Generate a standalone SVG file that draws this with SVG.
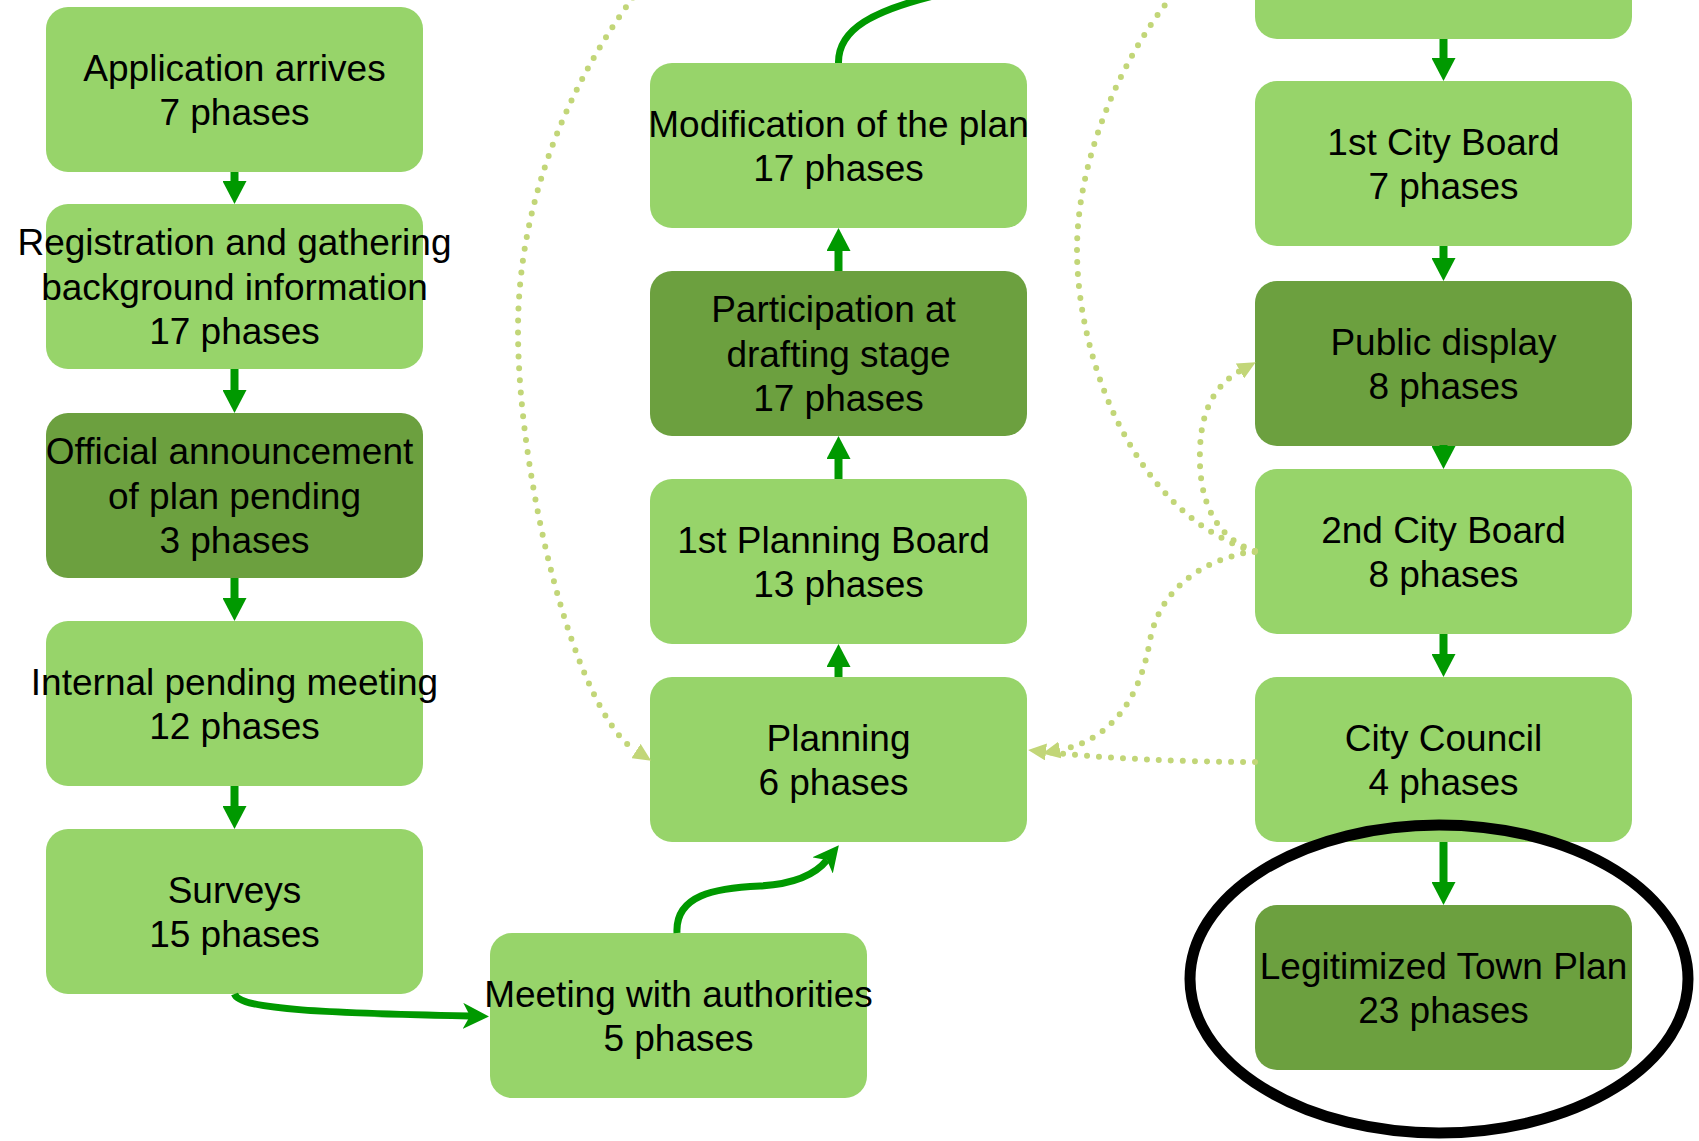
<svg xmlns="http://www.w3.org/2000/svg" width="1699" height="1141" viewBox="0 0 1699 1141">
<style>
.box{fill:#97D46A}
.dark{fill:#6CA03F}
.lbl{font-family:"Liberation Sans",Arial,sans-serif;font-size:37px;fill:#000;text-anchor:middle}
.solid{fill:none;stroke:#009900;stroke-width:8}
.curve{fill:none;stroke:#009900;stroke-width:7}
.dot{fill:none;stroke:#C2D678;stroke-width:6;stroke-linecap:round;stroke-dasharray:0 12}
</style>
<defs>
<marker id="head" markerUnits="userSpaceOnUse" viewBox="0 0 23 24" refX="0" refY="12" markerWidth="23" markerHeight="24" orient="auto">
<path d="M0,0 L23,12 L0,24 z" fill="#009900"/>
</marker>
<marker id="notch" markerUnits="userSpaceOnUse" viewBox="0 0 26 26" refX="7" refY="13" markerWidth="26" markerHeight="26" orient="auto">
<path d="M0,0 L26,13 L0,26 L7,13 z" fill="#009900"/>
</marker>
<marker id="dhead" markerUnits="userSpaceOnUse" viewBox="0 0 18 17" refX="0" refY="8.5" markerWidth="18" markerHeight="17" orient="auto">
<path d="M0,0 L18,8.5 L0,17 z" fill="#C2D678"/>
</marker>
</defs>

<g id="n-top"><rect class="box" x="1255" y="-126" width="377" height="165" rx="22"/></g>

<g id="n-application"><rect class="box" x="46" y="7" width="377" height="165" rx="22"/>
<text class="lbl"><tspan x="234.5" y="80.6">Application arrives</tspan><tspan x="234.5" y="125">7 phases</tspan></text></g>

<g id="n-registration"><rect class="box" x="46" y="204" width="377" height="165" rx="22"/>
<text class="lbl"><tspan x="234.5" y="255.4">Registration and gathering</tspan><tspan x="234.5" y="299.8">background information</tspan><tspan x="234.5" y="344.2">17 phases</tspan></text></g>

<g id="n-official"><rect class="dark" x="46" y="413" width="377" height="165" rx="22"/>
<text class="lbl"><tspan x="229.5" y="464.4">Official announcement</tspan><tspan x="234.5" y="508.8">of plan pending</tspan><tspan x="234.5" y="553.2">3 phases</tspan></text></g>

<g id="n-internal"><rect class="box" x="46" y="621" width="377" height="165" rx="22"/>
<text class="lbl"><tspan x="234.5" y="694.6">Internal pending meeting</tspan><tspan x="234.5" y="739">12 phases</tspan></text></g>

<g id="n-surveys"><rect class="box" x="46" y="829" width="377" height="165" rx="22"/>
<text class="lbl"><tspan x="234.5" y="902.6">Surveys</tspan><tspan x="234.5" y="947">15 phases</tspan></text></g>

<g id="n-modification"><rect class="box" x="650" y="63" width="377" height="165" rx="22"/>
<text class="lbl"><tspan x="838.5" y="136.6">Modification of the plan</tspan><tspan x="838.5" y="181">17 phases</tspan></text></g>

<g id="n-participation"><rect class="dark" x="650" y="271" width="377" height="165" rx="22"/>
<text class="lbl"><tspan x="833.5" y="322.4">Participation at</tspan><tspan x="838.5" y="366.8">drafting stage</tspan><tspan x="838.5" y="411.2">17 phases</tspan></text></g>

<g id="n-planningboard1"><rect class="box" x="650" y="479" width="377" height="165" rx="22"/>
<text class="lbl"><tspan x="833.5" y="552.6">1st Planning Board</tspan><tspan x="838.5" y="597">13 phases</tspan></text></g>

<g id="n-planning"><rect class="box" x="650" y="677" width="377" height="165" rx="22"/>
<text class="lbl"><tspan x="838.5" y="750.6">Planning</tspan><tspan x="833.5" y="795">6 phases</tspan></text></g>

<g id="n-meeting"><rect class="box" x="490" y="933" width="377" height="165" rx="22"/>
<text class="lbl"><tspan x="678.5" y="1006.6">Meeting with authorities</tspan><tspan x="678.5" y="1051">5 phases</tspan></text></g>

<g id="n-cityboard1"><rect class="box" x="1255" y="81" width="377" height="165" rx="22"/>
<text class="lbl"><tspan x="1443.5" y="154.6">1st City Board</tspan><tspan x="1443.5" y="199">7 phases</tspan></text></g>

<g id="n-publicdisplay"><rect class="dark" x="1255" y="281" width="377" height="165" rx="22"/>
<text class="lbl"><tspan x="1443.5" y="354.6">Public display</tspan><tspan x="1443.5" y="399">8 phases</tspan></text></g>

<g id="n-cityboard2"><rect class="box" x="1255" y="469" width="377" height="165" rx="22"/>
<text class="lbl"><tspan x="1443.5" y="542.6">2nd City Board</tspan><tspan x="1443.5" y="587">8 phases</tspan></text></g>

<g id="n-citycouncil"><rect class="box" x="1255" y="677" width="377" height="165" rx="22"/>
<text class="lbl"><tspan x="1443.5" y="750.6">City Council</tspan><tspan x="1443.5" y="795">4 phases</tspan></text></g>

<g id="n-legitimized"><rect class="dark" x="1255" y="905" width="377" height="165" rx="22"/>
<text class="lbl"><tspan x="1443.5" y="978.6">Legitimized Town Plan</tspan><tspan x="1443.5" y="1023">23 phases</tspan></text></g>

<g id="connectors">
<path class="solid" d="M234.5 172 L234.5 181" marker-end="url(#head)"/>
<path class="solid" d="M234.5 369 L234.5 390" marker-end="url(#head)"/>
<path class="solid" d="M234.5 578 L234.5 598" marker-end="url(#head)"/>
<path class="solid" d="M234.5 786 L234.5 806" marker-end="url(#head)"/>
<path class="solid" d="M838.5 479 L838.5 459" marker-end="url(#head)"/>
<path class="solid" d="M838.5 677 L838.5 667" marker-end="url(#head)"/>
<path class="solid" d="M838.5 271 L838.5 251" marker-end="url(#head)"/>
<path class="solid" d="M1443.5 39 L1443.5 58" marker-end="url(#head)"/>
<path class="solid" d="M1443.5 246 L1443.5 258" marker-end="url(#head)"/>
<path class="solid" d="M1443.5 445 L1443.5 446" marker-end="url(#head)"/>
<path class="solid" d="M1443.5 634 L1443.5 654" marker-end="url(#head)"/>
<path class="solid" d="M1443.5 842 L1443.5 882" marker-end="url(#head)"/>
<path class="curve" d="M234.5 994 C240 1010, 330 1013, 470 1016" marker-end="url(#notch)"/>
<path class="curve" d="M677 933 C675 895, 715 888, 760 886 C795 884, 815 875, 827 860" marker-end="url(#notch)"/>
<path class="curve" d="M838.5 63 C838 30, 870 10, 950 -8"/>
<path class="dot" d="M640 -12 C570 80, 518 200, 518 330 C518 480, 575 712, 636 751" marker-end="url(#dhead)"/>
<path class="dot" d="M1172 -4 C1120 60, 1077 160, 1077 250 C1077 360, 1135 515, 1255 552"/>
<path class="dot" d="M1255 551 C1215 538, 1198 500, 1200 450 C1201 410, 1215 385, 1240 371" marker-end="url(#dhead)"/>
<path class="dot" d="M1255 551 C1200 560, 1160 590, 1150 640 C1140 700, 1110 740, 1060 750" marker-end="url(#dhead)"/>
<path class="dot" d="M1255 762 C1180 762, 1100 758, 1046 752" marker-end="url(#dhead)"/>
</g>

<g id="highlight"><ellipse cx="1439" cy="979" rx="249" ry="154" fill="none" stroke="#000" stroke-width="11"/></g>
</svg>
